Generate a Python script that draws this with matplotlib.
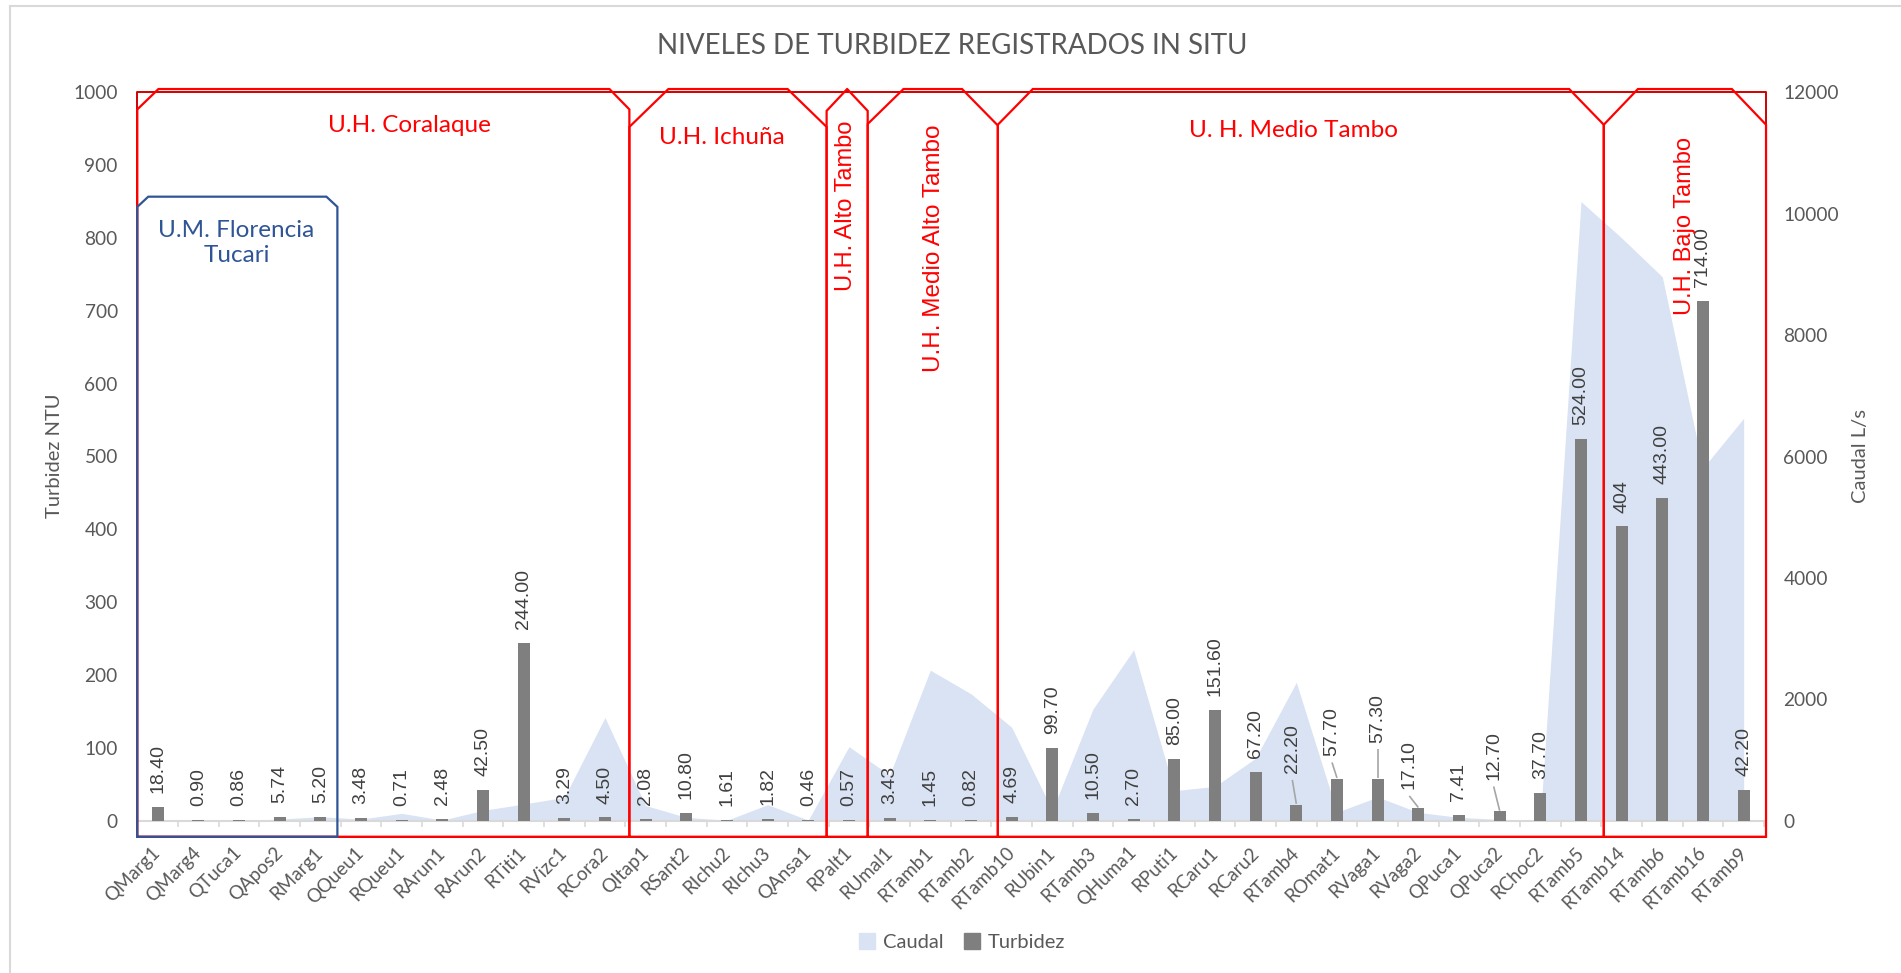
import numpy as np
import matplotlib
matplotlib.use('Agg')
import matplotlib.pyplot as plt
from matplotlib.patches import Patch

# ---- data ----
stations = ['QMarg1', 'QMarg4', 'QTuca1', 'QApos2', 'RMarg1', 'QQueu1', 'RQueu1',
            'RArun1', 'RArun2', 'RTiti1', 'RVizc1', 'RCora2', 'QItap1', 'RSant2',
            'RIchu2', 'RIchu3', 'QAnsa1', 'RPalt1', 'RUmal1', 'RTamb1', 'RTamb2',
            'RTamb10', 'RUbin1', 'RTamb3', 'QHuma1', 'RPuti1', 'RCaru1', 'RCaru2',
            'RTamb4', 'ROmat1', 'RVaga1', 'RVaga2', 'QPuca1', 'QPuca2', 'RChoc2',
            'RTamb5', 'RTamb14', 'RTamb6', 'RTamb16', 'RTamb9']

turbidez = [18.40, 0.90, 0.86, 5.74, 5.20, 3.48, 0.71, 2.48, 42.50, 244.00,
            3.29, 4.50, 2.08, 10.80, 1.61, 1.82, 0.46, 0.57, 3.43, 1.45,
            0.82, 4.69, 99.70, 10.50, 2.70, 85.00, 151.60, 67.20, 22.20, 57.70,
            57.30, 17.10, 7.41, 12.70, 37.70, 524.00, 404, 443.00, 714.00, 42.20]

caudal = [0, 0, 0, 27, 66, 27, 121, 10, 170, 275,
          384, 1700, 250, 55, 8, 264, 10, 1220, 750, 2480,
          2090, 1540, 170, 1840, 2815, 495, 565, 1030, 2280, 140,
          390, 137, 55, 22, 10, 10200, 9600, 8960, 5810, 6630]

labels_txt = [f"{v:.2f}" for v in turbidez]
labels_txt[stations.index('RTamb14')] = "404"

# labels moved by hand in the original (with leader line): dx in px, label bottom (NTU)
moved = {'RTamb4': (-4, 65), 'ROmat1': (-5, 89), 'RVaga1': (0, 107),
         'RVaga2': (-9, 43), 'QPuca2': (-6, 56)}

# hydrographic units: name, left edge, right edge (category units)
units = [('U.H. Coralaque', -0.5, 11.6),
         ('U.H. Ichuña', 11.6, 16.45),
         ('U.H. Alto Tambo', 16.45, 17.46),
         ('U.H. Medio Alto Tambo', 17.46, 20.66),
         ('U. H. Medio Tambo', 20.66, 35.56),
         ('U.H. Bajo Tambo', 35.56, 39.55)]

# ---- style ----
bar_c = '#7f7f7f'
area_c = '#dae3f3'
txt_c = '#595959'
lab_c = '#404040'
red = '#ff0000'
blue = '#2f5597'
base_font = ['Lato', 'DejaVu Sans']
num_font = ['Liberation Sans', 'DejaVu Sans']

plt.rcParams['font.family'] = base_font

fig = plt.figure(figsize=(19.01, 9.73), dpi=100)
W, H = 1901, 973
left_px, right_px, top_px, bot_px = 137.3, 1764, 92.3, 820.7
ax = fig.add_axes([left_px / W, 1 - bot_px / H, (right_px - left_px) / W, (bot_px - top_px) / H])
ax2 = ax.twinx()
ax.set_zorder(ax2.get_zorder() + 1)
ax.patch.set_visible(False)

n = len(stations)
x = np.arange(n)
cat_px = (right_px - left_px) / n

# caudal area (right axis)
ax2.fill_between(x, caudal, 0, color=area_c, lw=0)
ax2.set_ylim(0, 12000)
ax2.set_yticks(np.arange(0, 12001, 2000))

# turbidez bars (left axis)
ax.bar(x, turbidez, width=0.3, color=bar_c, zorder=3)
ax.set_ylim(0, 1000)
ax.set_xlim(-0.5, n - 0.5)
ax.set_yticks(np.arange(0, 1001, 100))

for a in (ax, ax2):
    for s in ('top', 'left', 'right', 'bottom'):
        a.spines[s].set_visible(False)
    a.tick_params(axis='y', length=0, labelsize=13.8, labelcolor=txt_c, pad=14)

ax.axhline(0, color='#d9d9d9', lw=1.5, zorder=2, clip_on=False)
ax.set_xticks(x)
ax.set_xticklabels(stations, rotation=45, ha='right', rotation_mode='anchor',
                   fontsize=13.5, color=txt_c)
ax.tick_params(axis='x', which='major', length=0, pad=21)
ax.set_xticks(np.arange(-0.5, n, 1.0), minor=True)
ax.tick_params(axis='x', which='minor', length=4.5, width=1.2, color='#d9d9d9')
for lbl in ax.get_xticklabels():
    lbl.set_verticalalignment('center')

# data labels
for i, (v, t) in enumerate(zip(turbidez, labels_txt)):
    st = stations[i]
    if st in moved:
        dx, yb = moved[st]
        xl = i + dx / cat_px
        ax.text(xl, yb, t, rotation=90, ha='center', va='bottom', fontsize=14,
                color=lab_c, family=num_font, zorder=6)
        ax.plot([xl, i], [yb - 9, v + 1], color='#a6a6a6', lw=1.2, zorder=5,
                solid_capstyle='butt')
    else:
        ax.annotate(t, xy=(i, v), xytext=(0, 10), textcoords='offset points',
                    rotation=90, ha='center', va='bottom', fontsize=14,
                    color=lab_c, family=num_font, zorder=6)

# boxes of the hydrographic units
bottom = -22
top = 1004.5


def snip_box(x0, x1, top_y, cut_l, dy_l, cut_r, dy_r, color, lw=1.6):
    xs = [x0, x0, x0 + cut_l, x1 - cut_r, x1, x1, x0]
    ys = [bottom, top_y - dy_l, top_y, top_y, top_y - dy_r, bottom, bottom]
    ax.plot(xs, ys, color=color, lw=lw, clip_on=False, zorder=8, solid_joinstyle='miter')


# outer frame
ax.plot([-0.5, -0.5, 39.55, 39.55, -0.5], [bottom, 1000, 1000, bottom, bottom],
        color='#d00000', lw=1.4, clip_on=False, zorder=7)

cuts = [(0.52, 28, 0.49, 28), (0.96, 52, 0.96, 52), (0.505, 30, 0.505, 30),
        (0.88, 48, 0.88, 50), (0.86, 49, 0.85, 49), (0.84, 49, 0.84, 49)]
for (name, x0, x1), (cl, dl, cr, dr) in zip(units, cuts):
    snip_box(x0, x1, top, cl, dl, cr, dr, red)

# Florencia Tucari micro-unit
snip_box(-0.5, 4.42, 856.7, 0.27, 14, 0.27, 14, blue)

ax.text(6.18, 955, 'U.H. Coralaque', color=red, fontsize=17.5, ha='center', va='center', zorder=9)
ax.text(13.87, 938, 'U.H. Ichuña', color=red, fontsize=17.5, ha='center', va='center', zorder=9)
ax.text(27.93, 947, 'U. H. Medio Tambo', color=red, fontsize=17.5, ha='center', va='center', zorder=9)
ax.text(16.93, 844, 'U.H. Alto Tambo', color=red, fontsize=17, rotation=90,
        ha='center', va='center', family=num_font, zorder=9)
ax.text(19.1, 786, 'U.H. Medio Alto Tambo', color=red, fontsize=17.5, rotation=90,
        ha='center', va='center', family=num_font, zorder=9)
ax.text(37.55, 817, 'U.H. Bajo Tambo', color=red, fontsize=17, rotation=90,
        ha='center', va='center', family=num_font, zorder=9)
ax.text(1.94, 793, 'U.M. Florencia\nTucari', color=blue, fontsize=17.5, ha='center',
        va='center', linespacing=1.2, zorder=9)

# titles
fig.text(952 / W, 1 - 46 / H, 'NIVELES DE TURBIDEZ REGISTRADOS IN SITU', ha='center',
         va='center', fontsize=20, color=txt_c)
fig.text(54.6 / W, 1 - 456 / H, 'Turbidez NTU', rotation=90, ha='center', va='center',
         fontsize=14.5, color=txt_c)
fig.text(1860 / W, 1 - 456 / H, 'Caudal L/s', rotation=90, ha='center', va='center',
         fontsize=14.5, color=txt_c)

# chart border (left and top only visible in the source crop)
fig.add_artist(plt.Line2D([9.5 / W, 9.5 / W], [0, 1 - 6 / H], color='#d9d9d9', lw=1.5))
fig.add_artist(plt.Line2D([9.5 / W, 1], [1 - 6 / H, 1 - 6 / H], color='#d9d9d9', lw=1.5))

handles = [Patch(color=area_c, label='Caudal'), Patch(color=bar_c, label='Turbidez')]
fig.legend(handles=handles, loc='center', bbox_to_anchor=(962 / W, 1 - 942 / H), ncol=2,
           frameon=False, fontsize=14.5, labelcolor=txt_c, handlelength=0.8,
           handleheight=0.8, columnspacing=1.0, handletextpad=0.4)

fig.savefig('out.png', dpi=100)
